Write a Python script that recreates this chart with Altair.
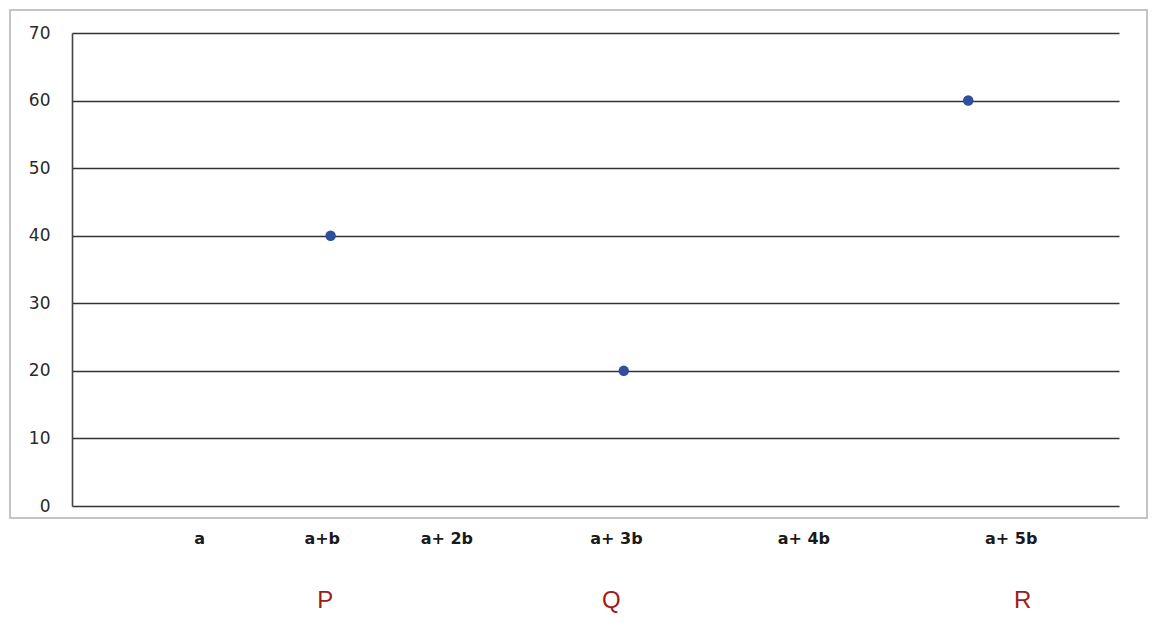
import altair as alt
import pandas as pd

# Data
point_pos = [24.7, 52.7, 85.6]      # horizontal position on a 0-100 scale
point_val = [40, 20, 60]

term_labels = ["a", "a+b", "a+ 2b", "a+ 3b", "a+ 4b", "a+ 5b"]
term_pos = [12.2, 23.9, 35.8, 52.0, 69.9, 89.7]

letter_labels = ["P", "Q", "R"]
letter_pos = [24.2, 51.5, 90.8]

y_ticks = [0, 10, 20, 30, 40, 50, 60, 70]

pts = pd.DataFrame({"x": point_pos, "y": point_val})
terms = pd.DataFrame({"x": term_pos, "label": term_labels})
letters = pd.DataFrame({"x": letter_pos, "label": letter_labels})

W, H = 1047, 473

xscale = alt.Scale(domain=[0, 100], nice=False, zero=False)
yscale = alt.Scale(domain=[0, 70], nice=False)

frame = alt.Chart(pd.DataFrame({"d": [0]})).mark_rect(
    fill=None, stroke="#c4c4c4", strokeWidth=2, clip=False
).encode(
    x=alt.value(-62), x2=alt.value(1075), y=alt.value(-23), y2=alt.value(485)
)

points = alt.Chart(pts).mark_circle(size=110, color="#2d4f9e", opacity=1).encode(
    x=alt.X("x:Q", scale=xscale, axis=None),
    y=alt.Y(
        "y:Q",
        scale=yscale,
        axis=alt.Axis(
            values=y_ticks,
            title=None,
            grid=True,
            gridColor="#333333",
            gridWidth=1.6,
            gridOpacity=1,
            domain=True,
            domainColor="#444444",
            domainWidth=1.6,
            ticks=False,
            labelFont="DejaVu Sans",
            labelFontSize=17,
            labelColor="#2a2a2a",
            labelPadding=22,
        ),
    ),
)

term_text = alt.Chart(terms).mark_text(
    font="DejaVu Sans", fontSize=16, fontWeight="bold", color="#1a1a1a",
    baseline="middle", align="center"
).encode(
    x=alt.X("x:Q", scale=xscale),
    y=alt.value(506),
    text="label:N",
)

letter_text = alt.Chart(letters).mark_text(
    font="Liberation Sans", fontSize=24, color="#9e1b1b",
    baseline="middle", align="center"
).encode(
    x=alt.X("x:Q", scale=xscale),
    y=alt.value(568),
    text="label:N",
)

chart = alt.layer(frame, points, term_text, letter_text).properties(
    width=W,
    height=H,
    autosize=alt.AutoSizeParams(type="none"),
    padding={"left": 64, "top": 25, "right": 30, "bottom": 110},
    background="white",
).configure_view(stroke=None)

chart.save("out.html", embed_options={"renderer": "svg", "actions": False})
